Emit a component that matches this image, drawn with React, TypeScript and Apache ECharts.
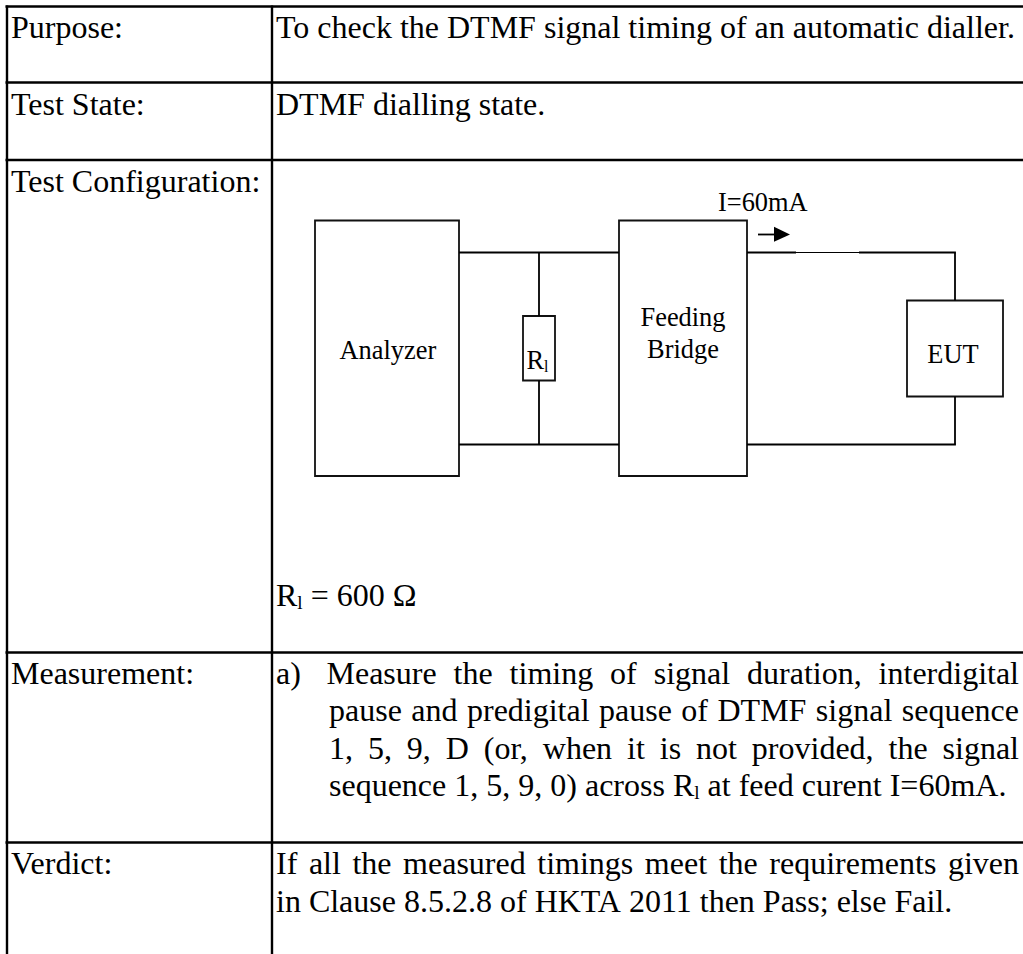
import React, { useEffect, useRef } from "react";
import * as echarts from "echarts";

const FONT = '"Liberation Serif", "Times New Roman", serif';
const BODY = 32;
const DIA = 26.4;
const LINE = 37.4;

const rowLabels = ["Purpose:", "Test State:", "Test Configuration:", "Measurement:", "Verdict:"];
const rowLabelBaselines = [35.7, 112.7, 189.7, 682, 872];
const rowRules = [6.5, 82.5, 160, 652.5, 842.5];
const columnRules = [7, 272];

const purposeText = "To check the DTMF signal timing of an automatic dialler.";
const stateText = "DTMF dialling state.";
const measureMarker = "a)";
const measureLines = [
  "Measure the timing of signal duration, interdigital",
  "pause and predigital pause of DTMF signal sequence",
  "1, 5, 9, D (or, when it is not provided, the signal",
  "sequence 1, 5, 9, 0) across R_l at feed curent I=60mA.",
];
const verdictLines = [
  "If all the measured timings meet the requirements given",
  "in Clause 8.5.2.8 of HKTA 2011 then Pass; else Fail.",
];
const ohmNote = ["R", "l", " = 600 Ω"];

// [left, top, right, bottom]
const boxes = [
  [315, 220.5, 459, 476],
  [619, 220.5, 747, 476],
  [523, 316, 555, 380.5],
  [907, 300.5, 1003, 396.5],
];
// [x1, y1, x2, y2]
const wires = [
  [459, 252.5, 619, 252.5],
  [459, 444.5, 619, 444.5],
  [539, 252.5, 539, 316],
  [539, 380.5, 539, 444.5],
  [747, 252.5, 796, 252.5],
  [859, 252.5, 955.9, 252.5],
  [955, 252.5, 955, 300.5],
  [747, 444.5, 955.9, 444.5],
  [955, 396.5, 955, 444.5],
];

const ctx = document.createElement("canvas").getContext("2d")!;
function widthOf(s: string, size: number) {
  ctx.font = `${size}px ${FONT}`;
  return ctx.measureText(s).width;
}

function label(s: string, x: number, baseline: number, size = BODY, align = "left") {
  return {
    type: "text",
    silent: true,
    x,
    y: baseline - size * 0.285,
    style: { text: s, font: `${size}px ${FONT}`, fill: "#000", align, verticalAlign: "middle" },
  };
}

function wordWidth(w: string) {
  if (w === "R_l") return widthOf("R", BODY) + widthOf("l", BODY * 0.6);
  return widthOf(w, BODY);
}

function justified(s: string, left: number, right: number, baseline: number, stretch: boolean) {
  const words = s.split(" ");
  const total = words.reduce((a, w) => a + wordWidth(w), 0);
  const natural = widthOf(" ", BODY);
  const gap = stretch ? (right - left - total) / (words.length - 1) : natural;
  const out: any[] = [];
  let x = left;
  for (const w of words) {
    if (w === "R_l") {
      out.push(label("R", x, baseline));
      out.push(label("l", x + widthOf("R", BODY), baseline + 4, BODY * 0.6));
    } else {
      out.push(label(w, x, baseline));
    }
    x += wordWidth(w) + gap;
  }
  return out;
}

export default function App() {
  const ref = useRef<HTMLDivElement>(null);
  useEffect(() => {
    const chart = echarts.init(ref.current!, undefined, { renderer: "svg" });
    const elements: any[] = [];
    const rule = (x1: number, y1: number, x2: number, y2: number, w: number) => ({
      type: "line",
      silent: true,
      shape: { x1, y1, x2, y2 },
      style: { stroke: "#000", lineWidth: w },
    });

    rowRules.forEach((y) => elements.push(rule(5.5, y, 1023, y, 2.4)));
    columnRules.forEach((x) => elements.push(rule(x, 5.5, x, 954, 2.4)));
    rowLabels.forEach((t, i) => elements.push(label(t, 11, rowLabelBaselines[i])));

    elements.push(...justified(purposeText, 276, 1019, 35.7, false));
    elements.push(...justified(stateText, 276, 1019, 112.7, false));

    elements.push(label(measureMarker, 276, 682));
    measureLines.forEach((t, i) => {
      const left = i === 0 ? 326.5 : 329;
      elements.push(...justified(t, left, 1019, 682 + i * LINE, i < 3));
    });
    elements.push(...justified(verdictLines[0], 276, 1019, 872, true));
    elements.push(...justified(verdictLines[1], 276, 1019, 910, false));

    elements.push(label(ohmNote[0], 276, 604));
    const rw = widthOf("R", BODY);
    elements.push(label(ohmNote[1], 276 + rw, 608, BODY * 0.6));
    elements.push(label(ohmNote[2], 276 + rw + widthOf("l", BODY * 0.6), 604));

    boxes.forEach(([l, t, r, b]) =>
      elements.push({
        type: "rect",
        silent: true,
        shape: { x: l, y: t, width: r - l, height: b - t },
        style: { fill: "#fff", stroke: "#111", lineWidth: 1.8 },
      })
    );
    wires.forEach(([a, b, c, d]) => elements.push(rule(a, b, c, d, 1.8)));
    elements.push(rule(796, 252.5, 859, 252.5, 1.1));
    elements.push(rule(758, 234.5, 778, 234.5, 1.8));
    elements.push({
      type: "polygon",
      silent: true,
      shape: { points: [[774, 226.7], [790, 234.5], [774, 241.7]] },
      style: { fill: "#000" },
    });

    elements.push(label("Analyzer", 339.5, 358, DIA));
    elements.push(label("Feeding", 683, 325, DIA, "center"));
    elements.push(label("Bridge", 683, 357, DIA, "center"));
    elements.push(label("EUT", 953, 362, DIA, "center"));
    elements.push(label("I=60mA", 718, 209.5, DIA));
    elements.push(label("R", 526.5, 367.5, DIA));
    elements.push(label("l", 544, 371, DIA * 0.6));

    chart.setOption({ animation: false, backgroundColor: "#fff", graphic: { elements } });
    return () => chart.dispose();
  }, []);
  return (
    <div
      ref={ref}
      style={{ position: "fixed", left: 0, top: 0, width: 1023, height: 954, background: "#fff" }}
    />
  );
}
